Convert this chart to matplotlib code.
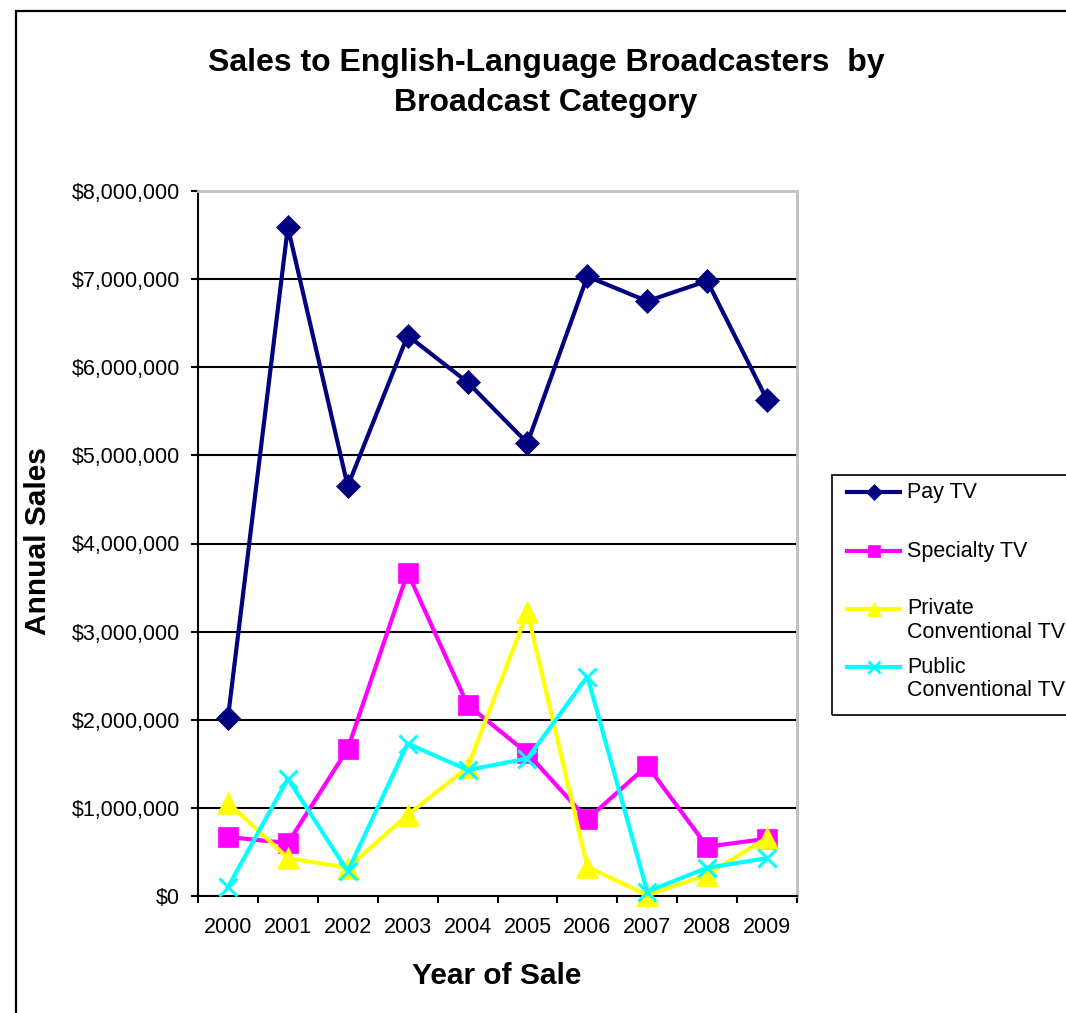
import matplotlib
matplotlib.use("Agg")
from matplotlib import pyplot as plt
from matplotlib.lines import Line2D
from matplotlib.patches import Rectangle
from matplotlib.ticker import FuncFormatter

plt.rcParams['font.family'] = ['Liberation Sans', 'DejaVu Sans']

YEARS = ['2000', '2001', '2002', '2003', '2004', '2005', '2006', '2007', '2008', '2009']

PAY_TV = [2020000, 7590000, 4650000, 6360000, 5830000, 5140000, 7030000, 6750000, 6980000, 5630000]
SPECIALTY_TV = [670000, 600000, 1670000, 3670000, 2170000, 1620000, 870000, 1480000, 560000, 650000]
PRIVATE_CONV_TV = [1060000, 430000, 320000, 920000, 1460000, 3220000, 330000, 10000, 240000, 660000]
PUBLIC_CONV_TV = [100000, 1330000, 280000, 1730000, 1430000, 1560000, 2490000, 50000, 320000, 430000]

SERIES = [
    ('Pay TV', PAY_TV, '#000080', 'D', 12),
    ('Specialty TV', SPECIALTY_TV, '#ff00ff', 's', 14),
    ('Private\nConventional TV', PRIVATE_CONV_TV, '#ffff00', '^', 16),
    ('Public\nConventional TV', PUBLIC_CONV_TV, '#00ffff', 'x', 13),
]

W, H = 1066, 1013
fig = plt.figure(figsize=(W / 100, H / 100), dpi=100)
ax = fig.add_axes([198 / W, 1 - 896 / H, (797 - 198) / W, (896 - 191) / H])

x = list(range(len(YEARS)))
for name, vals, col, mk, ms in SERIES:
    ax.plot(x, vals, color=col, lw=3, marker=mk, markersize=ms,
            markeredgewidth=2.2 if mk == 'x' else 0.5, markeredgecolor=col,
            markerfacecolor=col, zorder=3, clip_on=False)

ax.set_xlim(-0.5, len(YEARS) - 0.5)
ax.set_ylim(0, 8000000)
ax.set_yticks(range(0, 8000001, 1000000))
ax.yaxis.set_major_formatter(FuncFormatter(lambda v, p: '${:,.0f}'.format(v)))
ax.set_xticks(x)
ax.set_xticklabels(YEARS)
ax.set_xticks([i - 0.5 for i in range(len(YEARS) + 1)], minor=True)
ax.tick_params(axis='x', which='major', length=0, pad=15, labelsize=15.5)
ax.tick_params(axis='x', which='minor', length=5, width=1.5, direction='out')
ax.tick_params(axis='y', length=5, width=1.5, direction='out', pad=8, labelsize=15.5)

ax.grid(axis='y', color='black', lw=1.5)
ax.set_axisbelow(True)
for side in ('left', 'bottom'):
    ax.spines[side].set_color('black')
    ax.spines[side].set_linewidth(1.5)
for side in ('top', 'right'):
    ax.spines[side].set_color('#c0c0c0')
    ax.spines[side].set_linewidth(2)

fig.text(546 / W, 1 - 83 / H, 'Sales to English-Language Broadcasters  by\nBroadcast Category',
         ha='center', va='center', fontsize=23, fontweight='bold', linespacing=1.45)
fig.text(38 / W, 1 - 541 / H, 'Annual Sales', rotation=90, ha='center', va='center',
         fontsize=21.5, fontweight='bold')
fig.text(497 / W, 1 - 976 / H, 'Year of Sale', ha='center', va='center',
         fontsize=21.5, fontweight='bold')

# outer chart border
fig.add_artist(Rectangle((16 / W, -0.05), 1.2, 1 - 11 / H + 0.05, transform=fig.transFigure,
                         fill=False, ec='black', lw=1.6, clip_on=False))

# legend box drawn by hand so the handles sit on the first line of each label
fig.add_artist(Rectangle((832 / W, 1 - 715 / H), 1.2, 240 / H, transform=fig.transFigure,
                         fill=False, ec='black', lw=1.2, clip_on=False))
rows = [492, 551, 609, 667]
for (name, vals, col, mk, ms), ry in zip(SERIES, rows):
    yf = 1 - ry / H
    fig.add_artist(Line2D([847 / W, 900 / W], [yf, yf], transform=fig.transFigure,
                          color=col, lw=3))
    fig.add_artist(Line2D([873.5 / W], [yf], transform=fig.transFigure, color=col,
                          marker=mk, markersize=ms * 0.65,
                          markeredgewidth=2 if mk == 'x' else 0.5,
                          markeredgecolor=col, markerfacecolor=col))
    for k, ln in enumerate(name.split('\n')):
        fig.text(907 / W, 1 - (ry + 23 * k) / H, ln, ha='left', va='center', fontsize=15.5)

fig.savefig('out.png', dpi=100)
